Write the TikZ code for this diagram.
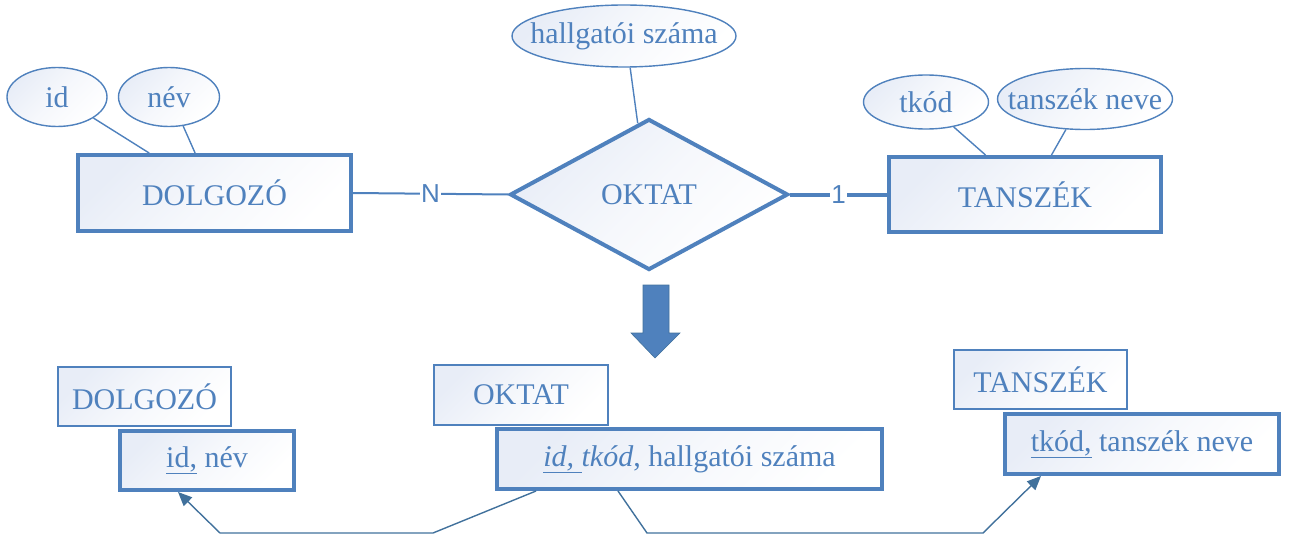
\documentclass[tikz,border=0pt]{standalone}
\usepackage{fontspec}
\setmainfont{Liberation Serif}
\newfontfamily\labelsans{Liberation Sans}
\usetikzlibrary{shapes.geometric,calc,arrows.meta}
\definecolor{erblue}{HTML}{4F81BD}
\definecolor{erdark}{HTML}{41719C}
\definecolor{ertint}{HTML}{E8EDF7}
\begin{document}
\begin{tikzpicture}[x=1pt,y=-1pt,
  softfill/.style={top color=ertint, bottom color=white, middle color=white!60!ertint, shading angle=45},
  bigtext/.style={text=erblue, font=\fontsize{30}{36}\selectfont},
  entity/.style={draw=erblue, line width=4pt, softfill, inner sep=0pt, bigtext},
  thinbox/.style={draw=erblue, line width=1.6pt, softfill, inner sep=0pt, bigtext},
  attrib/.style={ellipse, draw=erblue, line width=1.4pt, softfill, inner xsep=-45pt, inner ysep=-20pt, bigtext},
  relship/.style={diamond, draw=erblue, line width=4pt, softfill, inner sep=0pt, bigtext},
  attrline/.style={draw=erblue, line width=1.4pt},
  relline/.style={draw=erblue, line width=2pt},
  relthick/.style={draw=erblue, line width=4pt},
  card/.style={fill=white, inner sep=1.5pt, text=erblue, font=\labelsans\fontsize{26}{30}\selectfont},
  fkline/.style={draw=erdark, line width=1.4pt, -{Triangle[length=14pt,width=12pt]}}
]
\useasboundingbox (0,0) rectangle (1291,535);

% ---- ER diagram ----
\node[entity, minimum width=273pt, minimum height=76pt] (dolg) at (214.5,193) {DOLGOZÓ};
\node[entity, minimum width=272pt, minimum height=75pt] (tansz) at (1025,194.5) {TANSZÉK};
\node[relship, minimum width=278pt, minimum height=151pt] (okt) at (649,194.5) {OKTAT};

\node[attrib, minimum width=100pt, minimum height=59pt] (eid) at (57,97) {id};
\node[attrib, minimum width=101pt, minimum height=59pt] (enev) at (169,97) {név};
\node[attrib, minimum width=224pt, minimum height=62pt] (ehsz) at (624,36) {hallgatói száma};
\node[attrib, minimum width=125pt, minimum height=54pt] (etkod) at (926,102) {tkód};
\node[attrib, minimum width=175pt, minimum height=61pt] (etnev) at (1085,99) {tanszék neve};

\draw[attrline] (eid.-30) -- ($(dolg.north west)!0.264!(dolg.north east)$);
\draw[attrline] (enev.-64) -- ($(dolg.north west)!0.43!(dolg.north east)$);
\draw[attrline] (ehsz.-79) -- (okt.99);
\draw[attrline] (etkod.-42) -- ($(tansz.north west)!0.357!(tansz.north east)$);
\draw[attrline] (etnev.-122) -- ($(tansz.north west)!0.596!(tansz.north east)$);

\draw[relline] (dolg.east) -- node[card] {N} (okt.west);
\draw[relthick] (okt.east) -- node[card] {1} (tansz.west);

% ---- transformation arrow ----
\fill[erblue, draw=erdark, line width=0.6pt]
  (643,285) -- (669,285) -- (669,333) -- (680,333) -- (655,358) -- (631,333) -- (643,333) -- cycle;

% ---- relational schema ----
\node[thinbox, minimum width=173pt, minimum height=59pt] (rdolg) at (144.5,396.5) {DOLGOZÓ};
\node[entity, minimum width=174pt, minimum height=59pt] (rdolgA) at (207,460.5) {\underline{id,} név};

\node[thinbox, minimum width=174pt, minimum height=60pt] (rokt) at (521,395) {OKTAT};
\node[entity, minimum width=385pt, minimum height=60pt] (roktA) at (689.5,459)
  {\underline{\textit{id, }}\textit{tkód}, hallgatói száma};

\node[thinbox, minimum width=173pt, minimum height=59pt] (rtansz) at (1040.5,379.5) {TANSZÉK};
\node[entity, minimum width=274pt, minimum height=60pt] (rtanszA) at (1142,444) {\underline{tkód,} tanszék neve};

% foreign keys
\draw[fkline] ($(roktA.south west)+(41,0)$) -- (433,533) -- (220,533) -- ($(rdolgA.south west)+(60,0)$);
\draw[fkline] ($(roktA.south west)+(123,0)$) -- (647,533) -- (983,533) -- ($(rtanszA.south west)+(38,0)$);
\end{tikzpicture}
\end{document}
